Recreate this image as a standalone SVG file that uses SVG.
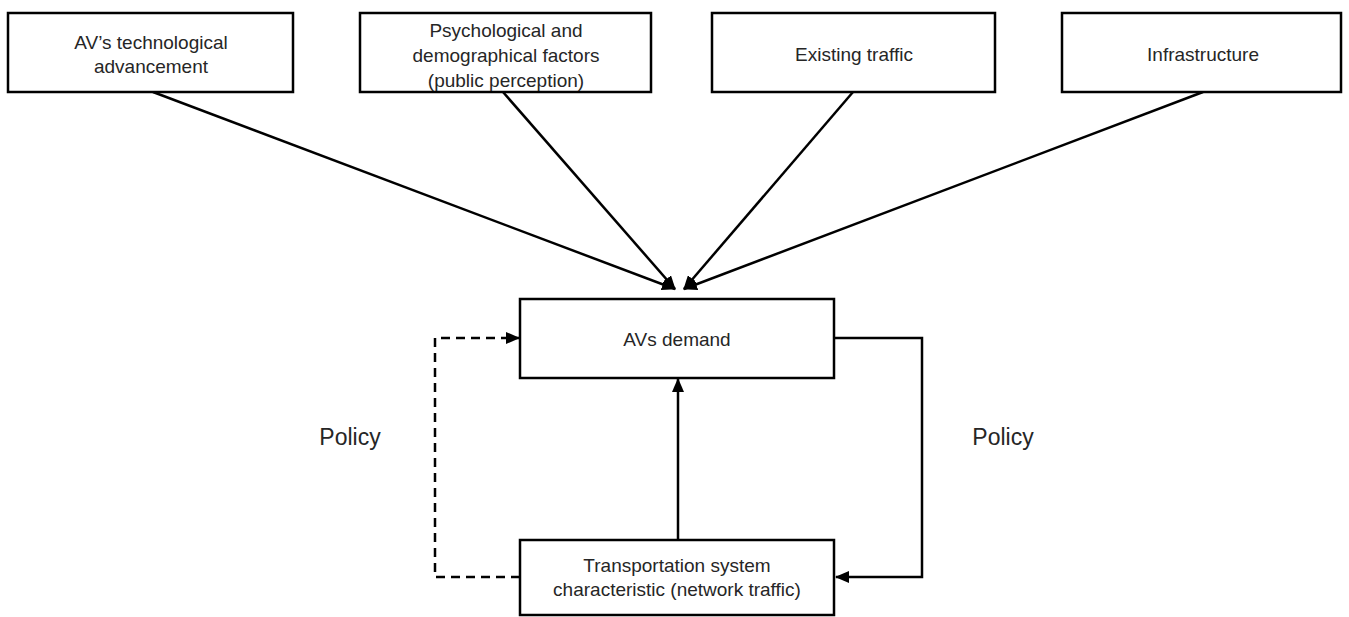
<svg xmlns="http://www.w3.org/2000/svg" width="1349" height="617" viewBox="0 0 1349 617">
<style>
.box{fill:#fff;stroke:#000;stroke-width:2.5}
.t{font-family:"Liberation Sans",Arial,sans-serif;font-size:19px;fill:#262626;text-anchor:middle}
.p{font-family:"Liberation Sans",Arial,sans-serif;font-size:23px;fill:#262626;text-anchor:middle}
.c{fill:none;stroke:#000;stroke-width:2.5}
.d{stroke-dasharray:9,6}
</style>
<defs>
<marker id="ah" markerUnits="userSpaceOnUse" markerWidth="14" markerHeight="12" refX="13" refY="6" orient="auto">
<path d="M0,0 L14,6 L0,12 Z" fill="#000"/>
</marker>
</defs>
<g id="connectors">
<line class="c" x1="153" y1="92" x2="675" y2="289" marker-end="url(#ah)"/>
<line class="c" x1="503" y1="92" x2="675" y2="289" marker-end="url(#ah)"/>
<line class="c" x1="853" y1="92" x2="684" y2="289" marker-end="url(#ah)"/>
<line class="c" x1="1203" y1="92" x2="684" y2="289" marker-end="url(#ah)"/>
<line class="c" x1="678" y1="540" x2="678" y2="379" marker-end="url(#ah)"/>
<polyline class="c d" points="520,577 435,577 435,338 519,338" marker-end="url(#ah)"/>
<polyline class="c" points="834,338 922,338 922,577 836,577" marker-end="url(#ah)"/>
</g>
<g id="n1"><rect class="box" x="8" y="13" width="285" height="79"/>
<text class="t" x="151" y="49">AV’s technological</text><text class="t" x="151" y="73">advancement</text></g>
<g id="n2"><rect class="box" x="360" y="13" width="291" height="79"/>
<text class="t" x="506" y="37">Psychological and</text><text class="t" x="506" y="62">demographical factors</text><text class="t" x="506" y="87">(public perception)</text></g>
<g id="n3"><rect class="box" x="712" y="13" width="283" height="79"/>
<text class="t" x="854" y="61">Existing traffic</text></g>
<g id="n4"><rect class="box" x="1062" y="13" width="279" height="79"/>
<text class="t" x="1203" y="61">Infrastructure</text></g>
<g id="n5"><rect class="box" x="520" y="299" width="314" height="79"/>
<text class="t" x="677" y="346">AVs demand</text></g>
<g id="n6"><rect class="box" x="520" y="540" width="314" height="75"/>
<text class="t" x="677" y="572">Transportation system</text><text class="t" x="677" y="596">characteristic (network traffic)</text></g>
<g id="labels">
<text class="p" x="350" y="445">Policy</text>
<text class="p" x="1003" y="445">Policy</text>
</g>
</svg>
